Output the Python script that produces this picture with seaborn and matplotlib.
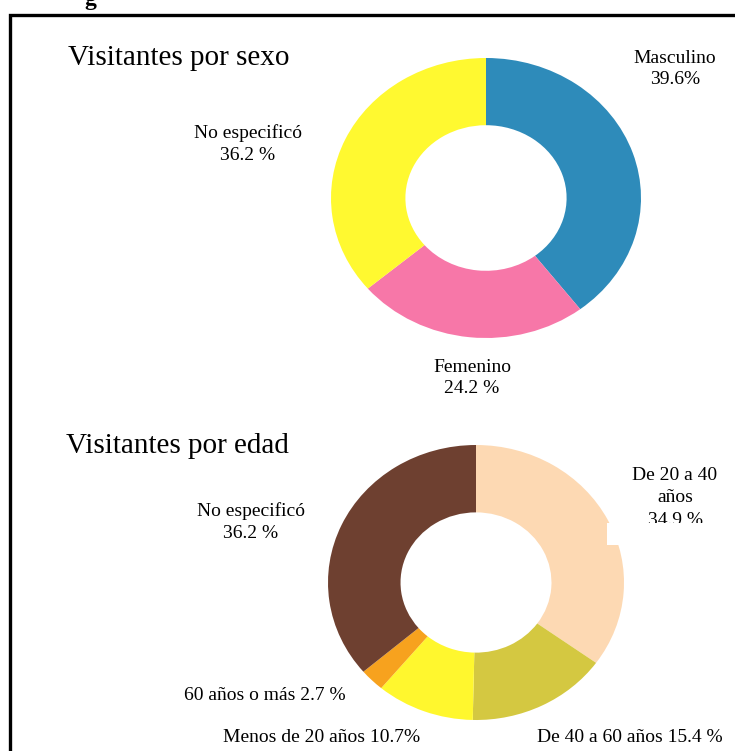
import matplotlib
matplotlib.use("Agg")
import matplotlib.pyplot as plt
import seaborn as sns
from matplotlib.patches import Rectangle

# data
sexo_labels = ["Masculino", "Femenino", "No especificó"]
sexo_values = [39.6, 24.2, 36.2]
sexo_text = ["Masculino\n39.6%", "Femenino\n24.2 %", "No especificó\n36.2 %"]
sexo_colors = ["#2E8BBA", "#F777A8", "#FFF930"]

edad_labels = ["De 20 a 40 años", "De 40 a 60 años", "Menos de 20 años",
               "60 años o más", "No especificó"]
edad_values = [34.9, 15.4, 10.7, 2.7, 36.2]
edad_text = ["De 20 a 40\naños\n34.9 %", "De 40 a 60 años 15.4 %",
             "Menos de 20 años 10.7%", "60 años o más 2.7 %",
             "No especificó\n36.2 %"]
edad_colors = ["#FDD9B3", "#D4C841", "#FFF72E", "#F7A21E", "#6E4030"]

sns.set_theme(style="white")
plt.rcParams["font.family"] = ["Liberation Serif", "DejaVu Serif"]
plt.rcParams["text.color"] = "black"

W, H = 735, 751
fig = plt.figure(figsize=(W / 100, H / 100), dpi=100)


def px_axes(x0, y0, x1, y1):
    # pixel box (top-left origin) -> figure axes
    return fig.add_axes([x0 / W, 1 - y1 / H, (x1 - x0) / W, (y1 - y0) / H])


def ftext(x, y, s, **kw):
    return fig.text(x / W, 1 - y / H, s, **kw)


# border of the figure box
fig.patches.append(Rectangle((10 / W, -0.2), 1.2, 1.2 - 15 / H,
                             transform=fig.transFigure, fill=False,
                             edgecolor="black", linewidth=2.4, zorder=0))

# cut-off caption above the box
ftext(90, 5, "g", fontsize=17, fontweight="bold", ha="center", va="baseline")

# pie 1: visitors by sex
ax1 = px_axes(331, 58, 641, 338)
ax1.pie(sexo_values, colors=sexo_colors, startangle=90, counterclock=False,
        wedgeprops=dict(width=0.48, linewidth=0))
ax1.set_aspect("auto")
ax1.set_xlim(-1, 1)
ax1.set_ylim(-1, 1)
ax1.axis("off")

# pie 2: visitors by age
ax2 = px_axes(328, 445, 624, 720)
ax2.pie(edad_values, colors=edad_colors, startangle=90, counterclock=False,
        wedgeprops=dict(width=0.49, linewidth=0))
ax2.set_aspect("auto")
ax2.set_xlim(-1, 1)
ax2.set_ylim(-1, 1)
ax2.axis("off")

# titles
ftext(68, 58, "Visitantes por sexo", fontsize=21, va="center", ha="left")
ftext(66, 446, "Visitantes por edad", fontsize=21, va="center", ha="left")

# labels for sex
lab = dict(fontsize=14, ha="center", va="center", linespacing=1.35)
ftext(675, 69, sexo_text[0], **lab)
ftext(472, 378, sexo_text[1], **lab)
ftext(248, 144, sexo_text[2], **lab)

# labels for age
ftext(675, 498, edad_text[0], fontsize=14, ha="center", va="center",
      linespacing=1.45, zorder=2)
ftext(630, 738, edad_text[1], **lab)
ftext(322, 737, edad_text[2], **lab)
ftext(265, 696, edad_text[3], **lab)
ftext(251, 522, edad_text[4], **lab)

# white box that covers the bottom of the "34.9 %" line
fig.patches.append(Rectangle((607 / W, 1 - 545 / H), 200 / W, 22 / H,
                             transform=fig.transFigure, facecolor="white",
                             edgecolor="none", zorder=5))

fig.savefig("out.png", dpi=100, facecolor="white")
